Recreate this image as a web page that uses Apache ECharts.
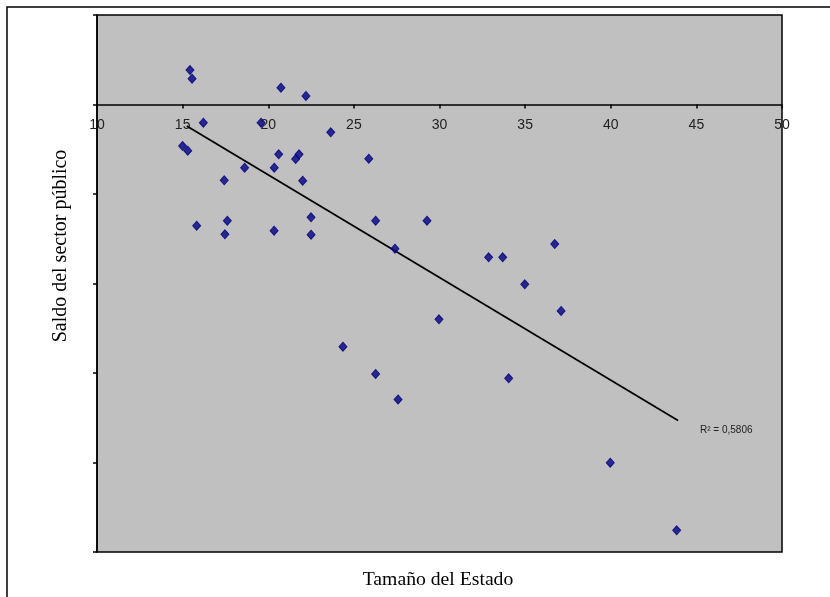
<!DOCTYPE html>
<html>
<head>
<meta charset="utf-8">
<script src="https://cdn.jsdelivr.net/npm/echarts@6/dist/echarts.min.js"></script>
<style>html,body{margin:0;padding:0;background:#fff;}#c{width:830px;height:597px;}</style>
</head>
<body>
<div id="c"></div>
<script>
var xValues = [15.43,15.55,20.74,22.20,16.21,19.58,23.65,15.00,15.30,20.61,21.80,21.60,25.87,18.62,20.35,17.43,22.01,22.50,17.61,26.27,29.27,15.82,20.34,17.47,22.50,27.40,36.73,32.87,33.69,34.98,37.10,29.97,24.36,26.27,34.04,27.58,39.97,43.85];
var yValues = [0.385,0.288,0.188,0.095,-0.203,-0.203,-0.311,-0.464,-0.516,-0.556,-0.556,-0.609,-0.606,-0.706,-0.706,-0.847,-0.851,-1.260,-1.298,-1.298,-1.298,-1.354,-1.410,-1.450,-1.455,-1.611,-1.559,-1.707,-1.707,-2.009,-2.307,-2.400,-2.706,-3.011,-3.059,-3.296,-4.002,-4.758];
var trendX = [15.24, 43.93];
var trendY = [-0.24, -3.53];
var xTicks = [10,15,20,25,30,35,40,45,50];
var r2Label = 'R² = 0,5806';

var pts = xValues.map(function(x,i){return [x, yValues[i]];});
var trend = trendX.map(function(x,i){return [x, trendY[i]];});

var yMin = -5, yMax = 1;
var gridTop = 15, gridBottom = 45, H = 597;
var gridH = H - gridTop - gridBottom;
var zeroOffset = -gridH * (0 - yMin) / (yMax - yMin);

var chart = echarts.init(document.getElementById('c'));
chart.setOption({
  animation:false,
  backgroundColor:'#fff',
  grid:{left:97, top:gridTop, right:48, bottom:gridBottom, show:true, backgroundColor:'#C0C0C0', borderColor:'#000', borderWidth:1.5},
  xAxis:{type:'value', min:xTicks[0], max:xTicks[xTicks.length-1], interval:5, position:'bottom', offset:zeroOffset,
    axisLine:{onZero:false, lineStyle:{color:'#000', width:1.5}},
    axisTick:{show:true, inside:false, length:4, lineStyle:{color:'#000', width:1.5}},
    axisLabel:{color:'#222', fontFamily:'Liberation Sans', fontSize:14, margin:14},
    splitLine:{show:false}},
  yAxis:{type:'value', min:yMin, max:yMax, interval:1,
    axisLine:{show:true, onZero:false, lineStyle:{color:'#000', width:1.5}},
    axisTick:{show:true, length:4, lineStyle:{color:'#000', width:1.5}},
    axisLabel:{show:false},
    splitLine:{show:false}},
  series:[
    {type:'line', data:trend, symbol:'none', lineStyle:{color:'#000', width:1.8}, z:2},
    {type:'scatter', data:pts, symbol:'diamond', symbolSize:[8,9], itemStyle:{color:'#000080', borderColor:'#000080', borderWidth:1}, z:3}
  ],
  graphic:[
    {type:'rect', shape:{x:7, y:7, width:830, height:600}, style:{fill:'none', stroke:'#000', lineWidth:1.5}, z:-10},
    {type:'text', x:61, y:246, rotation:Math.PI/2, style:{text:'Saldo del sector público', font:'20px "Liberation Serif"', fill:'#000', textAlign:'center', textVerticalAlign:'middle'}},
    {type:'text', x:438, y:580, style:{text:'Tamaño del Estado', font:'19.7px "Liberation Serif"', fill:'#000', textAlign:'center', textVerticalAlign:'middle'}},
    {type:'text', x:700, y:430, style:{text:r2Label, font:'10px "Liberation Sans"', fill:'#222', textAlign:'left', textVerticalAlign:'middle'}}
  ]
});
</script>
</body>
</html>
